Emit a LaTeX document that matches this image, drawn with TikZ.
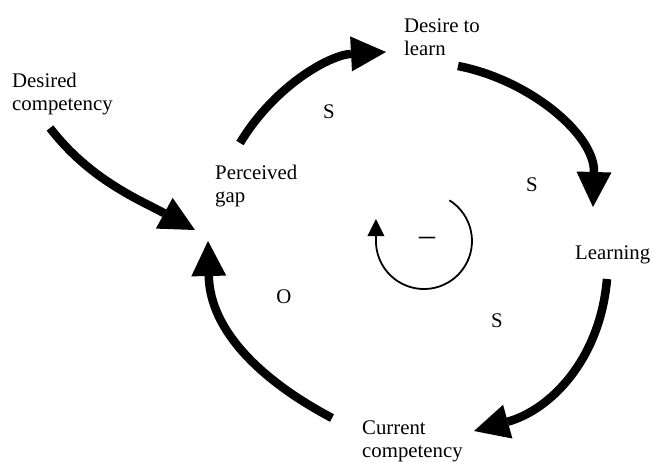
\documentclass[tikz,border=0pt]{standalone}
\usepackage{fontspec}
\setmainfont{Liberation Serif}
\usetikzlibrary{arrows.meta}
\begin{document}
\begin{tikzpicture}[x=1pt,y=-1pt,
  every node/.style={inner sep=0pt, font=\fontsize{20.8}{23.5}\selectfont},
  txt/.style={anchor=base west},
  lbl/.style={anchor=center},
  flow/.style={line width=8.5pt, -{Triangle[length=35pt,width=35pt,line width=0pt]}},
  loopline/.style={line width=1.8pt, -{Triangle[length=17pt,width=17pt,line width=0pt]}}]
\useasboundingbox (0,0) rectangle (654,463);

% variables
\node[txt] (desired)  at (12,87)   {\begin{tabular}[t]{@{}l@{}}Desired\\competency\end{tabular}};
\node[txt] (desire)   at (404,32)  {\begin{tabular}[t]{@{}l@{}}Desire to\\learn\end{tabular}};
\node[txt] (gap)      at (215,179) {\begin{tabular}[t]{@{}l@{}}Perceived\\gap\end{tabular}};
\node[txt] (learning) at (575,259) {Learning};
\node[txt] (current)  at (362,434) {\begin{tabular}[t]{@{}l@{}}Current\\competency\end{tabular}};

% link polarities
\node[lbl] (s1)    at (329,112) {S};
\node[lbl] (s2)    at (532,185) {S};
\node[lbl] (s3)    at (497,321) {S};
\node[lbl] (o1)    at (284,297) {O};
\node[lbl,font=\fontsize{32}{32}\selectfont] (minus) at (427,241) {–};

% causal links
\draw[flow] ([shift={(25,-36)}]gap.base west)
  .. controls (275,85) and (330,55) .. ([shift={(-18,20)}]desire.base west);
\draw[flow] ([shift={(54,34)}]desire.base west)
  .. controls (530,80) and (595,135) .. ([shift={(18,-52)}]learning.base west);
\draw[flow] ([shift={(32,20)}]learning.base west)
  .. controls (600,360) and (550,410) .. ([shift={(112,-3)}]current.base west);
\draw[flow] ([shift={(-30,-16)}]current.base west)
  .. controls (260,380) and (210,330) .. ([shift={(-7,62)}]gap.base west);
\draw[flow] ([shift={(38,41)}]desired.base west)
  .. controls (90,180) and (140,200) .. ([shift={(-20,51)}]gap.base west);

% loop direction marker
\draw[loopline] (449.4,200.3) arc[start angle=-58, end angle=180, radius=48] -- ++(0,-22);
\end{tikzpicture}
\end{document}
